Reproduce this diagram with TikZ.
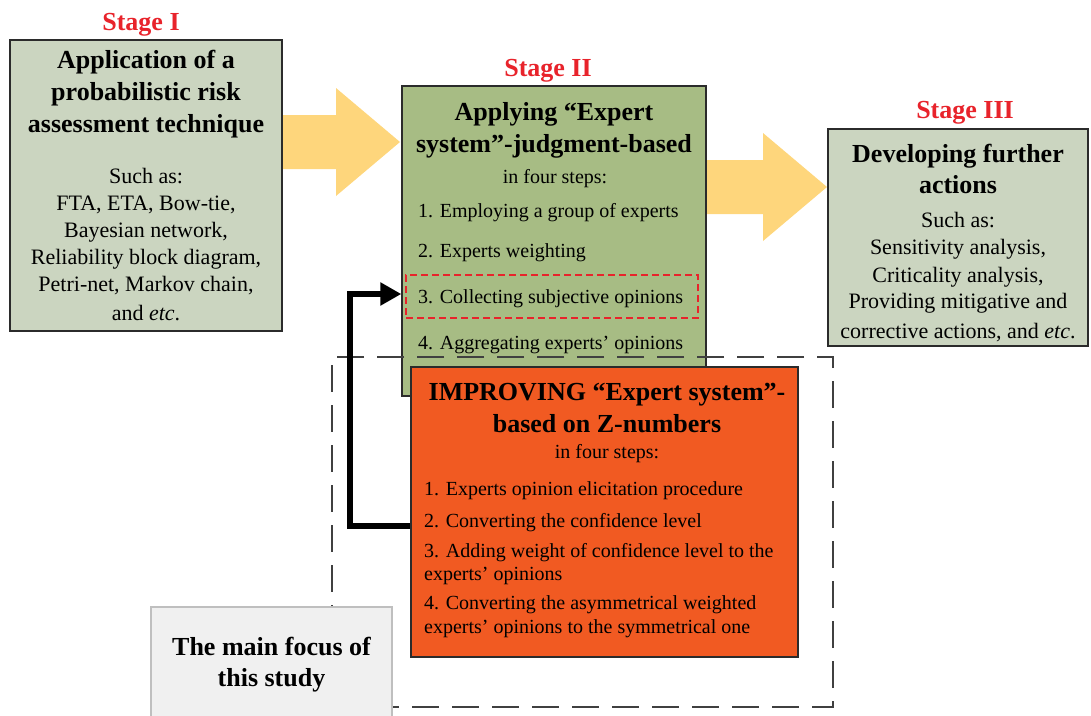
\documentclass[tikz,border=0pt]{standalone}
\usepackage{fontspec}
\setmainfont{Liberation Serif}
\usetikzlibrary{arrows.meta}

\definecolor{paleGreen}{HTML}{CBD5C0}
\definecolor{midGreen}{HTML}{A7BC84}
\definecolor{zOrange}{HTML}{F15A22}
\definecolor{flowYellow}{HTML}{FED67C}
\definecolor{stageRed}{HTML}{E8232B}
\definecolor{focusGrey}{HTML}{F0F0F0}
\definecolor{edgeGrey}{HTML}{2B2B2B}

\tikzset{
  box/.style={draw=edgeGrey, line width=1.3pt, inner sep=0pt},
  ttl/.style={anchor=base, inner sep=0pt, font=\fontsize{26}{30}\selectfont\bfseries},
  bodyA/.style={anchor=base, inner sep=0pt, font=\fontsize{22}{26}\selectfont},
  bodyB/.style={anchor=base west, inner sep=0pt, font=\fontsize{20}{24}\selectfont},
  bodyC/.style={anchor=base, inner sep=0pt, font=\fontsize{20}{24}\selectfont},
  stagelabel/.style={anchor=base, inner sep=0pt, text=stageRed, font=\fontsize{26}{30}\selectfont\bfseries},
  flow/.style={fill=flowYellow, draw=none},
  focusframe/.style={draw=black!75, line width=1.3pt, dash pattern=on 27pt off 13pt},
  pick/.style={draw=stageRed, line width=2.2pt, dash pattern=on 7pt off 4pt},
  feedback/.style={line width=6pt, line join=miter, -{Triangle[length=21pt,width=22pt]}}
}

\begin{document}
\begin{tikzpicture}[x=1pt,y=-1pt]
\useasboundingbox (0,0) rectangle (1091,715);

% broad flow arrows between the stages
\fill[flow] (282,115) -- (336,115) -- (336,88) -- (400,142) -- (336,196) -- (336,169) -- (282,169) -- cycle;
\fill[flow] (706,160) -- (763,160) -- (763,133) -- (827,187) -- (763,241) -- (763,214) -- (706,214) -- cycle;

% stage boxes
\node[box, fill=paleGreen, minimum width=272pt, minimum height=291pt] (b1) at (146,185.5) {};
\node[box, fill=midGreen, minimum width=304pt, minimum height=310pt] (b2) at (554,241) {};
\node[box, fill=paleGreen, minimum width=260pt, minimum height=217pt] (b3) at (958,237.5) {};

% stage headings
\node[stagelabel] (s1) at (141,30) {Stage I};
\node[stagelabel] (s2) at (548,76) {Stage II};
\node[stagelabel] (s3) at (965,118) {Stage III};

% stage I text
\node[ttl] (t1a) at (146,68) {Application of a};
\node[ttl] (t1b) at (146,100) {probabilistic risk};
\node[ttl] (t1c) at (146,132) {assessment technique};
\node[bodyA] (l1a) at (146,183) {Such as:};
\node[bodyA] (l1b) at (146,210) {FTA, ETA, Bow-tie,};
\node[bodyA] (l1c) at (146,237) {Bayesian network,};
\node[bodyA] (l1d) at (146,264) {Reliability block diagram,};
\node[bodyA] (l1e) at (146,291) {Petri-net, Markov chain,};
\node[bodyA] (l1f) at (146,320) {and \textit{etc}.};

% stage II text
\node[ttl] (t2a) at (554,120) {Applying “Expert};
\node[ttl] (t2b) at (554,152) {system”-judgment-based};
\node[bodyC] (l2a) at (555,183) {in four steps:};
\node[bodyB] (l2b) at (418,217) {1. Employing a group of experts};
\node[bodyB] (l2c) at (418,257) {2. Experts weighting};
\node[bodyB] (l2d) at (418,303) {3. Collecting subjective opinions};
\node[bodyB] (l2e) at (418,349) {4. Aggregating experts’ opinions};
\node[pick, minimum width=292pt, minimum height=43pt, inner sep=0pt] (red) at (552,296.5) {};

% stage III text
\node[ttl] (t3a) at (958,162) {Developing further};
\node[ttl] (t3b) at (958,193) {actions};
\node[bodyA] (l3a) at (958,227) {Such as:};
\node[bodyA] (l3b) at (958,254) {Sensitivity analysis,};
\node[bodyA] (l3c) at (958,282) {Criticality analysis,};
\node[bodyA] (l3d) at (958,308) {Providing mitigative and};
\node[bodyA] (l3e) at (958,338) {corrective actions, and \textit{etc}.};

% frame around the contribution of the study
\node[focusframe, minimum width=501pt, minimum height=350pt, inner sep=0pt] (area) at (582.5,532) {};

% Z-number improvement box
\node[box, fill=zOrange, minimum width=387pt, minimum height=290pt] (orange) at (604.5,512) {};
\node[ttl] (t4a) at (607,400) {IMPROVING “Expert system”-};
\node[ttl] (t4b) at (607,432) {based on Z-numbers};
\node[bodyC] (l4a) at (607,458) {in four steps:};
\node[bodyB] (l4b) at (424,495) {1. Experts opinion elicitation procedure};
\node[bodyB] (l4c) at (424,527) {2. Converting the confidence level};
\node[bodyB] (l4d) at (424,557) {3. Adding weight of confidence level to the};
\node[bodyB] (l4e) at (424,580) {experts’ opinions};
\node[bodyB] (l4f) at (424,609) {4. Converting the asymmetrical weighted};
\node[bodyB] (l4g) at (424,633) {experts’ opinions to the symmetrical one};

% label box
\node[draw=black!25, line width=1.3pt, fill=focusGrey, minimum width=241pt, minimum height=116pt, inner sep=0pt] (focus) at (271.5,665) {};
\node[ttl] (f1) at (271.5,655) {The main focus of};
\node[ttl] (f2) at (271.5,686) {this study};

% feedback arrow into step 3
\coordinate (fbk) at (350,526);
\coordinate (fbtop) at (350,294);
\draw[feedback] (orange.west |- fbk) -- (fbk) -- (fbtop) -- (b2.west |- fbtop);
\end{tikzpicture}
\end{document}
